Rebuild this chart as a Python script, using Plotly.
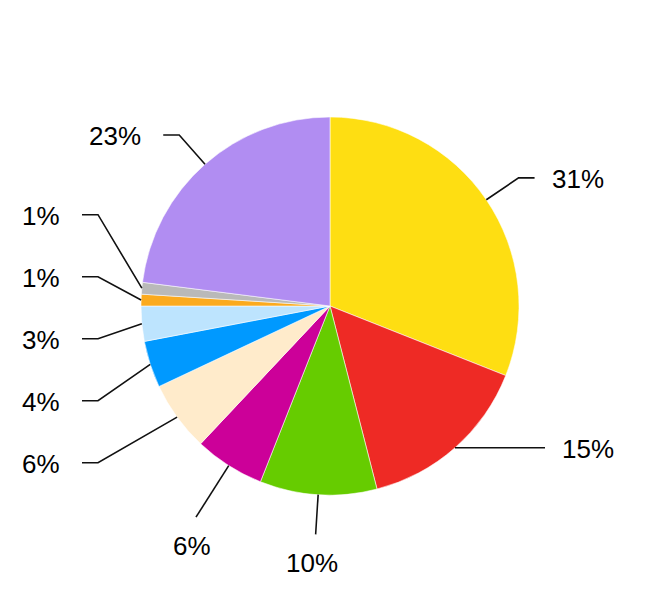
import math
import plotly.graph_objects as go

# ---------------- data ----------------
categories = ["Segment A", "Segment B", "Segment C", "Segment D", "Segment E",
              "Segment F", "Segment G", "Segment H", "Segment I", "Segment J"]
values = [31, 15, 10, 6, 6, 4, 3, 1, 1, 23]
colors = ["#FEDE12", "#EE2A25", "#66CC00", "#CC0099", "#FFEBCB",
          "#0099FF", "#BDE4FE", "#FBAA1E", "#B9B9B9", "#B18DF2"]

# ---------------- layout constants ----------------
W, H = 660, 610
CX, CY, R = 330, 306, 189        # pie centre / radius in pixels
ELB = 228                        # radius of radial elbow for free labels
COL = 232                        # horizontal distance of relocated elbows
STUB = 16                        # horizontal stub length
GAP = 62                         # min vertical spacing of side labels
FONT = dict(family="Liberation Sans, Arial, sans-serif", size=26, color="#000000")
LINE = dict(color="#111111", width=1.6)


def fx(x):
    return x / W


def fy(y):
    return 1 - y / H


fig = go.Figure()
fig.add_trace(go.Pie(
    labels=categories, values=values, sort=False, direction="clockwise",
    rotation=0, textinfo="none", hoverinfo="label+percent",
    marker=dict(colors=colors, line=dict(color="rgba(255,255,255,0.55)", width=1)),
    domain=dict(x=[fx(CX - R), fx(CX + R)], y=[fy(CY + R), fy(CY - R)]),
    showlegend=False,
))

# ---------------- label geometry (derived from the values) ----------------
total = float(sum(values))
items = []
cum = 0.0
for i, v in enumerate(values):
    mid = (cum + v / 2.0) / total * 360.0
    cum += v
    t = math.radians(mid)
    s, c = math.sin(t), math.cos(t)
    P = (CX + R * s, CY - R * c)
    if abs(mid - 180) < 35:
        kind = "bottom"
    elif s > 0:
        kind = "right"
    else:
        kind = "left"
    ny = CY - ELB * c if c > 0.3 else P[1]
    items.append(dict(i=i, s=s, c=c, P=P, kind=kind, ny=ny,
                      text=f"{round(100 * v / total)}%"))


def spread(group, gap):
    group.sort(key=lambda d: d["ny"])
    clusters = [[it] for it in group]

    def place(cl):
        n = len(cl)
        m = sum(it["ny"] for it in cl) / n
        return [m + (k - (n - 1) / 2.0) * gap for k in range(n)]

    changed = True
    while changed:
        changed = False
        for j in range(len(clusters) - 1):
            a, b = place(clusters[j]), place(clusters[j + 1])
            if b[0] - a[-1] < gap - 1e-6:
                clusters[j] = clusters[j] + clusters[j + 1]
                del clusters[j + 1]
                changed = True
                break
    for cl in clusters:
        for it, y in zip(cl, place(cl)):
            it["y"] = y


spread([it for it in items if it["kind"] == "left"], GAP)
spread([it for it in items if it["kind"] == "right"], GAP)

shapes, annotations = [], []
for it in items:
    s, c = it["s"], it["c"]
    Px, Py = it["P"]
    if it["kind"] == "bottom":
        re = 226 + 45 * abs(s)
        Ex, Ey = CX + re * s, CY - re * c
        pts = [(Px, Py), (Ex, Ey)]
        annotations.append(dict(x=fx(Ex - 4), y=fy(Ey + 12), text=it["text"],
                                xanchor="center", yanchor="top", showarrow=False,
                                font=FONT, xref="paper", yref="paper"))
    else:
        sign = 1 if it["kind"] == "right" else -1
        moved = abs(it["y"] - it["ny"]) > 0.5
        if not moved and c > 0:
            Ex, Ey = CX + ELB * s, CY - ELB * c
            end = Ex + sign * STUB
            pts = [(Px, Py), (Ex, Ey), (end, Ey)]
        elif not moved:
            Ey = it["y"]
            end = CX + sign * (COL - 17)
            pts = [(Px, Py), (end, Ey)]
        else:
            Ey = it["y"]
            Ex = CX + sign * COL
            end = Ex + sign * STUB
            pts = [(Px, Py), (Ex, Ey), (end, Ey)]
        gap = 15 if sign > 0 else 20
        annotations.append(dict(x=fx(end + sign * gap), y=fy(Ey + 1), text=it["text"],
                                xanchor="left" if sign > 0 else "right",
                                yanchor="middle", showarrow=False, font=FONT,
                                xref="paper", yref="paper"))
    path = "M " + " L ".join(f"{fx(x):.5f},{fy(y):.5f}" for x, y in pts)
    shapes.append(dict(type="path", path=path, xref="paper", yref="paper",
                       line=LINE, layer="above"))

fig.update_layout(
    width=W, height=H, margin=dict(l=0, r=0, t=0, b=0),
    paper_bgcolor="#FFFFFF", plot_bgcolor="#FFFFFF",
    shapes=shapes, annotations=annotations, showlegend=False,
)

fig.write_html("out.html", config={"displayModeBar": False},
               post_script="document.body.style.margin='0px';"
                           "document.body.style.overflow='hidden';")
